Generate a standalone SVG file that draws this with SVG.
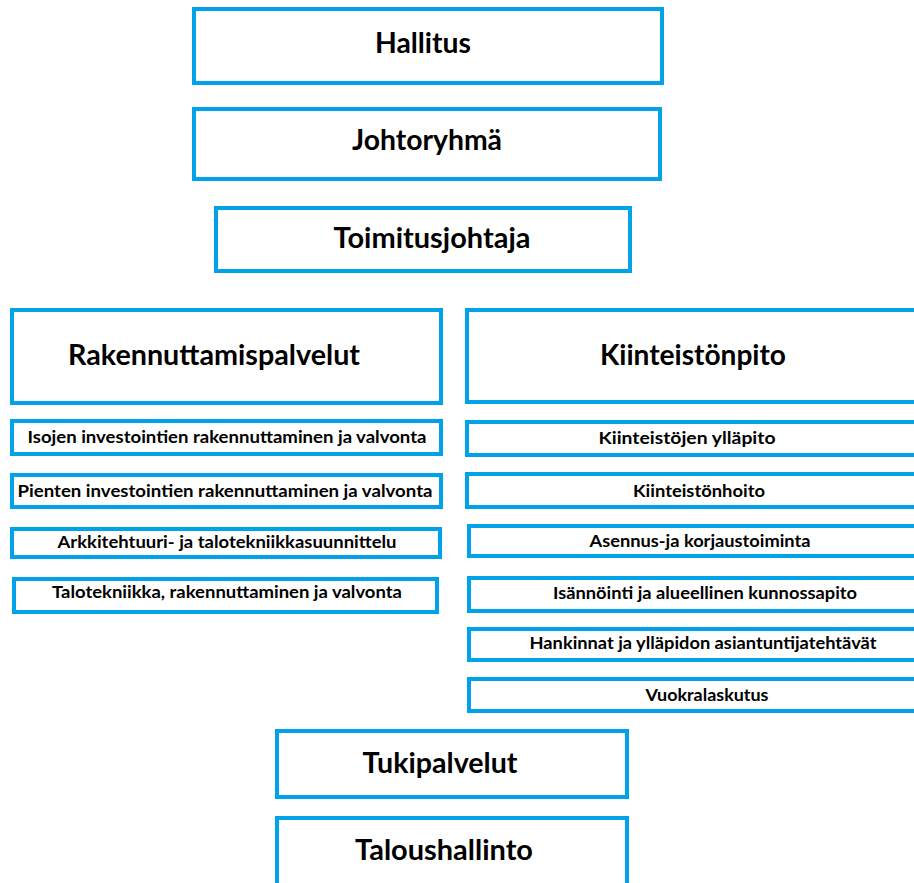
<svg xmlns="http://www.w3.org/2000/svg" width="914" height="883" viewBox="0 0 914 883">
<style>
rect{fill:#fff;stroke:#00a2e8;stroke-width:4}
text{font-family:Lato,"Liberation Sans",sans-serif;font-weight:bold;fill:#000;text-anchor:middle}
.h{font-size:28px}
.s{font-size:17px}
</style>
<rect x="0" y="0" width="914" height="883" style="stroke:none"/>
<g id="hallitus"><rect x="194" y="9" width="468" height="74"/><text class="h" x="423" y="53" textLength="96" lengthAdjust="spacingAndGlyphs">Hallitus</text></g>
<g id="johtoryhma"><rect x="194" y="109" width="466" height="70"/><text class="h" x="427" y="150" textLength="150" lengthAdjust="spacingAndGlyphs">Johtoryhmä</text></g>
<g id="toimitusjohtaja"><rect x="216" y="208" width="414" height="63"/><text class="h" x="432" y="248" textLength="197" lengthAdjust="spacingAndGlyphs">Toimitusjohtaja</text></g>
<g id="rakennuttamispalvelut"><rect x="12" y="310" width="429" height="93"/><text class="h" x="214" y="365" textLength="292" lengthAdjust="spacingAndGlyphs">Rakennuttamispalvelut</text></g>
<g id="isojen"><rect x="12" y="421" width="429" height="33"/><text class="s" x="227" y="443" textLength="399" lengthAdjust="spacingAndGlyphs">Isojen investointien rakennuttaminen ja valvonta</text></g>
<g id="pienten"><rect x="12" y="475" width="429" height="32"/><text class="s" x="225" y="497" textLength="415" lengthAdjust="spacingAndGlyphs">Pienten investointien rakennuttaminen ja valvonta</text></g>
<g id="arkkitehtuuri"><rect x="12" y="529" width="428" height="28"/><text class="s" x="227" y="548" textLength="339" lengthAdjust="spacingAndGlyphs">Arkkitehtuuri- ja talotekniikkasuunnittelu</text></g>
<g id="talotekniikka"><rect x="14" y="579" width="423" height="33"/><text class="s" x="227" y="598" textLength="350" lengthAdjust="spacingAndGlyphs">Talotekniikka, rakennuttaminen ja valvonta</text></g>
<g id="kiinteistonpito"><rect x="467" y="310" width="460" height="92"/><text class="h" x="693" y="365" textLength="186" lengthAdjust="spacingAndGlyphs">Kiinteistönpito</text></g>
<g id="kiinteistojen"><rect x="467" y="422" width="460" height="33"/><text class="s" x="687" y="444" textLength="177" lengthAdjust="spacingAndGlyphs">Kiinteistöjen ylläpito</text></g>
<g id="kiinteistonhoito"><rect x="467" y="474" width="460" height="33"/><text class="s" x="699" y="497" textLength="132" lengthAdjust="spacingAndGlyphs">Kiinteistönhoito</text></g>
<g id="asennus"><rect x="469" y="526" width="460" height="30"/><text class="s" x="700" y="547" textLength="221" lengthAdjust="spacingAndGlyphs">Asennus-ja korjaustoiminta</text></g>
<g id="isannointi"><rect x="469" y="578" width="460" height="33"/><text class="s" x="705" y="599" textLength="304" lengthAdjust="spacingAndGlyphs">Isännöinti ja alueellinen kunnossapito</text></g>
<g id="hankinnat"><rect x="469" y="629" width="460" height="31"/><text class="s" x="703" y="649" textLength="347" lengthAdjust="spacingAndGlyphs">Hankinnat ja ylläpidon asiantuntijatehtävät</text></g>
<g id="vuokralaskutus"><rect x="469" y="679" width="460" height="32"/><text class="s" x="707" y="701" textLength="123" lengthAdjust="spacingAndGlyphs">Vuokralaskutus</text></g>
<g id="tukipalvelut"><rect x="277" y="731" width="350" height="66"/><text class="h" x="440" y="773" textLength="155" lengthAdjust="spacingAndGlyphs">Tukipalvelut</text></g>
<g id="taloushallinto"><rect x="277" y="818" width="350" height="80"/><text class="h" x="444" y="860" textLength="178" lengthAdjust="spacingAndGlyphs">Taloushallinto</text></g>
<g id="connectors"/>
</svg>
